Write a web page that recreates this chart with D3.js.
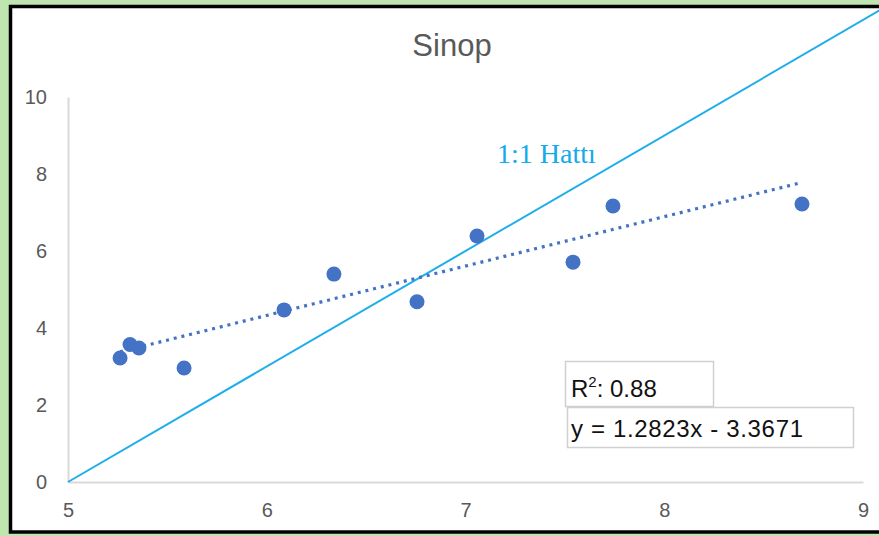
<!DOCTYPE html>
<html>
<head>
<meta charset="utf-8">
<script src="https://cdn.jsdelivr.net/npm/d3@7"></script>
<style>
  body { margin: 0; background: #bfe6b0; }
  svg { display: block; }
</style>
</head>
<body>
<div id="chart"></div>
<script>

var obsX = [5.262, 5.312, 5.357, 5.584, 6.087, 6.338, 6.756, 7.058, 7.541, 7.742, 8.693];
var obsY = [3.22, 3.57, 3.48, 2.96, 4.47, 5.40, 4.68, 6.39, 5.71, 7.17, 7.22];

var xTicks = [5, 6, 7, 8, 9];
var yTicks = [0, 2, 4, 6, 8, 10];

// trendline coefficients as printed on the chart
var trendSlope = 1.2823;
var trendIntercept = -3.3671;

// the drawn "1:1 Hattı" line, ends
var hattiX = [5, 9.1];
var hattiY = [0, 12.3];

var W = 879, H = 536;

var svg = d3.select("#chart")
            .append("svg")
            .attr("width", W)
            .attr("height", H);

// green surround + black frame
svg.append("rect")
   .attr("x", 0)
   .attr("y", 0)
   .attr("width", W)
   .attr("height", H)
   .attr("fill", "#bfe6b0");

svg.append("rect")
   .attr("x", 10.5)
   .attr("y", 6.5)
   .attr("width", 890)
   .attr("height", 525.5)
   .attr("fill", "white")
   .attr("stroke", "black")
   .attr("stroke-width", 3.5);

var x = d3.scaleLinear().domain([5, 9]).range([68, 863]);
var y = d3.scaleLinear().domain([0, 10]).range([482, 97]);

var plot = svg.append("g");

// axes
var xAxis = plot.append("g")
   .attr("transform", "translate(0," + y(0) + ")")
   .call(d3.axisBottom(x).tickValues(xTicks).tickSize(0).tickPadding(21).tickFormat(d3.format("d")));

var yAxis = plot.append("g")
   .attr("transform", "translate(" + x(5) + ",0)")
   .call(d3.axisLeft(y).tickValues(yTicks).tickSize(0).tickPadding(21).tickFormat(d3.format("d")));

[xAxis, yAxis].forEach(function(a){
  a.select(".domain").attr("stroke", "#d9d9d9").attr("stroke-width", 2);
  a.selectAll("text")
   .attr("fill", "#595959")
   .style("font-family", "'Liberation Sans', Arial, sans-serif")
   .style("font-size", "20px");
});

// 1:1 line
var hattiData = hattiX.map(function(d, i){ return {x: d, y: hattiY[i]}; });

var line = d3.line()
             .x(function(d){ return x(d.x); })
             .y(function(d){ return y(d.y); });

plot.append("path")
   .attr("d", line(hattiData))
   .attr("fill", "none")
   .attr("stroke", "#1eaeea")
   .attr("stroke-width", 2);

// linear trendline between the smallest and largest x
var xMin = d3.min(obsX), xMax = d3.max(obsX);
var trendData = [xMin, xMax].map(function(v){
  return {x: v, y: trendSlope * v + trendIntercept};
});

plot.append("path")
   .attr("d", line(trendData))
   .attr("fill", "none")
   .attr("stroke", "#4472c4")
   .attr("stroke-width", 3.2)
   .attr("stroke-dasharray", "3 4.9");

// points
plot.selectAll("circle.obs")
   .data(obsX.map(function(d, i){ return {x: d, y: obsY[i]}; }))
   .enter()
   .append("circle")
   .attr("class", "obs")
   .attr("cx", function(d){ return x(d.x); })
   .attr("cy", function(d){ return y(d.y); })
   .attr("r", 7.5)
   .attr("fill", "#4472c4");

// title
svg.append("text")
   .attr("x", 452)
   .attr("y", 56)
   .attr("text-anchor", "middle")
   .attr("fill", "#595959")
   .style("font-family", "'Liberation Sans', Arial, sans-serif")
   .style("font-size", "31px")
   .text("Sinop");

svg.append("text")
   .attr("x", 497)
   .attr("y", 163)
   .attr("fill", "#14aaec")
   .style("font-family", "'Liberation Serif', 'Times New Roman', serif")
   .style("font-size", "28px")
   .text("1:1 Hattı");

// R² and equation boxes
svg.append("rect")
   .attr("x", 565.5)
   .attr("y", 361.5)
   .attr("width", 148)
   .attr("height", 45)
   .attr("fill", "white")
   .attr("stroke", "#d0d0d0")
   .attr("stroke-width", 1.5);

svg.append("rect")
   .attr("x", 567.5)
   .attr("y", 407.5)
   .attr("width", 286)
   .attr("height", 40)
   .attr("fill", "white")
   .attr("stroke", "#d0d0d0")
   .attr("stroke-width", 1.5);

var r2 = svg.append("text")
   .attr("x", 571)
   .attr("y", 397)
   .attr("fill", "#111")
   .style("font-family", "'Liberation Sans', Arial, sans-serif")
   .style("font-size", "24px");
r2.append("tspan").text("R");
r2.append("tspan").attr("dy", -10).style("font-size", "15px").text("2");
r2.append("tspan").attr("dy", 10).text(": 0.88");

svg.append("text")
   .attr("x", 571)
   .attr("y", 437)
   .attr("fill", "#111")
   .style("font-family", "'Liberation Sans', Arial, sans-serif")
   .style("font-size", "24px")
   .attr("textLength", 232)
   .text("y = 1.2823x - 3.3671");

</script>
</body>
</html>
